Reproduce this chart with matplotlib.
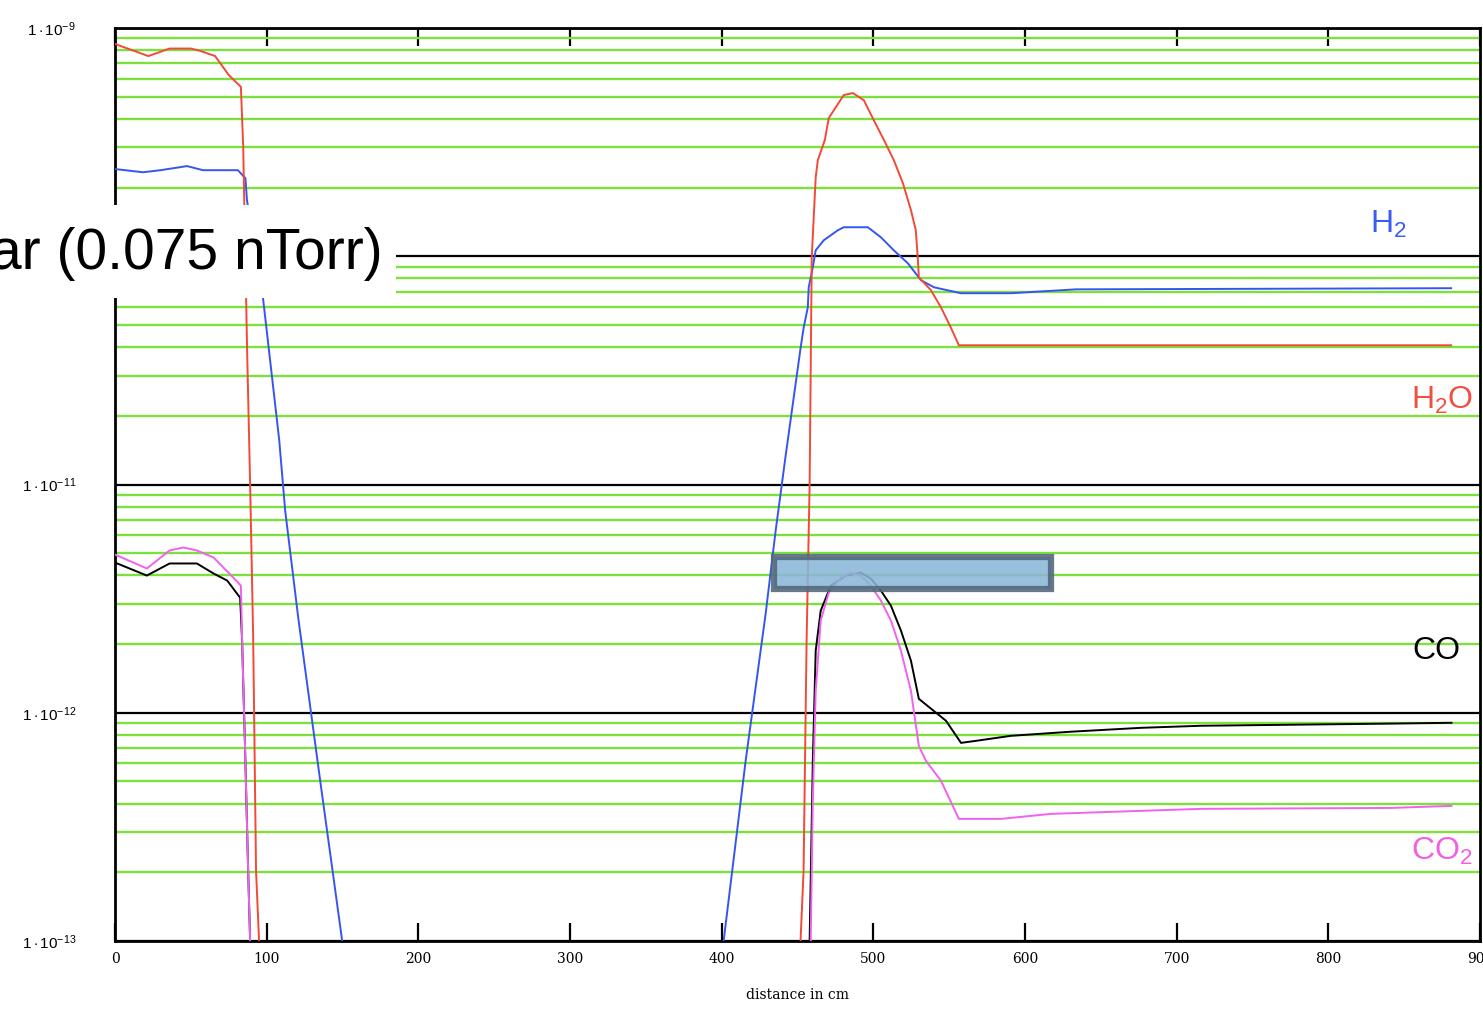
import matplotlib
matplotlib.use("Agg")
import matplotlib.pyplot as plt
import numpy as np
from matplotlib.patches import Rectangle
from matplotlib.ticker import LogLocator, NullLocator

plt.rcParams['mathtext.fontset'] = 'custom'
plt.rcParams['mathtext.rm'] = 'Liberation Sans'
plt.rcParams['mathtext.it'] = 'Liberation Sans'

# ---------------- data (distance in cm, log10 pressure) ----------------
h2o_x1 = [0, 22, 36, 50, 56, 66, 75, 83, 84.5, 87.1, 89.1, 91.1, 93, 95, 96]
h2o_l1 = [-9.070, -9.123, -9.090, -9.090, -9.100, -9.123, -9.206, -9.258, -9.513, -10.41, -11.0, -11.671, -12.693, -13.0, -13.5]
h2o_x2 = [451, 452, 454, 456, 458, 459.4, 462, 463.4, 468, 470.6, 474, 480.5, 486.5, 493.7, 500.3, 507,
          513.5, 519.5, 524.8, 528, 529.4, 530, 538, 544.6, 551, 556.4, 881]
h2o_l2 = [-13.5, -13.0, -12.693, -11.684, -11.0, -10.004, -9.654, -9.579, -9.491, -9.395, -9.360, -9.294, -9.285,
          -9.316, -9.404, -9.491, -9.579, -9.680, -9.798, -9.886, -10.018, -10.092, -10.149, -10.224, -10.311,
          -10.390, -10.390]

h2_x1 = [0, 18.5, 30, 47.5, 58, 81, 86, 87, 97, 108.3, 112.2, 120.8, 135.3, 149.8, 152]
h2_l1 = [-9.618, -9.632, -9.623, -9.605, -9.623, -9.623, -9.658, -9.754, -10.149, -10.807, -11.114, -11.583,
         -12.298, -13.0, -13.3]
h2_x2 = [399, 401.3, 415.8, 429, 435.6, 442.2, 452.1, 454.1, 456.8, 457.4, 460.1, 462.0, 467.3, 476.6, 480.5,
         496.4, 505, 513.5, 522.8, 531.4, 540, 557.8, 590.8, 633.7, 881]
h2_l2 = [-13.3, -13.0, -12.211, -11.566, -11.202, -10.873, -10.399, -10.311, -10.224, -10.136, -10.048, -9.974,
         -9.930, -9.886, -9.873, -9.873, -9.917, -9.974, -10.031, -10.105, -10.136, -10.162, -10.162, -10.145,
         -10.140]

co_x1 = [0, 21, 36, 54, 65, 74, 82.5, 83.8, 85.8, 87.8, 89.1, 90]
co_l1 = [-11.342, -11.399, -11.346, -11.346, -11.390, -11.421, -11.496, -11.684, -12.167, -12.693, -13.0, -13.5]
co_x2 = [457.5, 458, 460.1, 462, 465.3, 472, 481.8, 491.7, 498.3, 505, 511.6, 518.2, 524.8, 530, 538, 547.9,
         557.8, 567.7, 590.8, 630.4, 676.6, 716.2, 835, 881.2]
co_l2 = [-13.5, -13.0, -12.211, -11.728, -11.553, -11.443, -11.399, -11.386, -11.412, -11.465, -11.531, -11.640,
         -11.772, -11.939, -11.982, -12.035, -12.132, -12.123, -12.101, -12.083, -12.066, -12.057, -12.048, -12.044]

co2_x1 = [0, 21, 36, 45, 54, 65, 78, 83, 83.8, 85.8, 87.8, 89.1, 90]
co2_l1 = [-11.307, -11.368, -11.289, -11.276, -11.289, -11.320, -11.408, -11.443, -11.684, -12.167, -12.693,
          -13.0, -13.5]
co2_x2 = [458.2, 458.7, 460.1, 462, 465.3, 470.6, 478.5, 485.1, 491.7, 498.3, 505, 511.6, 518.2, 524.8, 530,
          534.7, 544.6, 556.4, 584.2, 617.2, 716.2, 841.6, 881.2]
co2_l2 = [-13.5, -13.0, -12.386, -11.904, -11.596, -11.474, -11.408, -11.386, -11.399, -11.443, -11.509, -11.596,
          -11.728, -11.904, -12.145, -12.211, -12.298, -12.465, -12.465, -12.443, -12.421, -12.417, -12.408]

box_x = [434.3, 617.2]
box_y = [3.50e-12, 4.83e-12]

xticks = [0, 100, 200, 300, 400, 500, 600, 700, 800, 900]
yticks = [1e-13, 1e-12, 1e-11, 1e-10, 1e-9]
# the 1e-10 label is hidden behind the white overlay in the reference
ytick_labels = [r'$1\cdot10^{-13}$', r'$1\cdot10^{-12}$', r'$1\cdot10^{-11}$', '', r'$1\cdot10^{-9}$']

# ---------------- figure ----------------
fig = plt.figure(figsize=(14.83, 10.09), dpi=100)
ax = fig.add_axes([115/1483, 1-941/1009, (1480-115)/1483, (941-28)/1009])
ax.set_yscale('log')
ax.set_xlim(0, 900)
ax.set_ylim(1e-13, 1e-9)

green = '#7ee03c'
ax.yaxis.set_minor_locator(LogLocator(base=10, subs=np.arange(2, 10)))
ax.xaxis.set_minor_locator(NullLocator())
ax.grid(axis='y', which='minor', color=green, lw=1.7, zorder=1)
ax.grid(axis='y', which='major', color='black', lw=1.6, zorder=1)
ax.set_axisbelow(True)

red = '#f24a36'
blue = '#3556ee'
mag = '#f062ee'

def p(l):
    return 10 ** np.array(l)

lw = 1.4
ax.plot(h2_x1, p(h2_l1), color=blue, lw=lw, zorder=3)
ax.plot(h2_x2, p(h2_l2), color=blue, lw=lw, zorder=3)
ax.plot(h2o_x1, p(h2o_l1), color=red, lw=lw, zorder=3)
ax.plot(h2o_x2, p(h2o_l2), color=red, lw=lw, zorder=3)
ax.plot(co2_x1, p(co2_l1), color=mag, lw=lw, zorder=4)
ax.plot(co2_x2, p(co2_l2), color=mag, lw=lw, zorder=4)
ax.plot(co_x1, p(co_l1), color='black', lw=lw, zorder=3.5)
ax.plot(co_x2, p(co_l2), color='black', lw=lw, zorder=3.5)

ax.add_patch(Rectangle((box_x[0], box_y[0]), box_x[1]-box_x[0], box_y[1]-box_y[0],
                       facecolor='#8ab6d6', edgecolor='#50677a', lw=4.5, alpha=0.88, zorder=5))

# ticks
ax.set_xticks(xticks)
ax.set_xticklabels([str(v) for v in xticks], family='DejaVu Serif', fontsize=10)
ax.set_yticks(yticks)
ax.set_yticklabels(ytick_labels, fontsize=11)
for lab in ax.get_yticklabels():
    lab.set_fontfamily('DejaVu Serif')
ax.tick_params(axis='x', which='major', direction='in', length=13, width=1.6, top=True, pad=8, color='black')
ax.tick_params(axis='y', which='both', length=0, pad=28)
for s in ax.spines.values():
    s.set_linewidth(2)
ax.set_xlabel('distance in cm', family='DejaVu Serif', fontsize=10, labelpad=16)

# species labels
lab_font = 'Liberation Sans'
fig.text(1388/1483, 1-224/1009, r'H$_2$', color='#3a5cf0', fontsize=23, family=lab_font, ha='center', va='center')
fig.text(1442/1483, 1-400/1009, r'H$_2$O', color='#f05040', fontsize=23, family=lab_font, ha='center', va='center')
fig.text(1436/1483, 1-651/1009, 'CO', color='black', fontsize=23, family=lab_font, ha='center', va='center')
fig.text(1442/1483, 1-851/1009, r'CO$_2$', color='#f060e0', fontsize=23, family=lab_font, ha='center', va='center')

# white overlay box with label
fig.patches.append(Rectangle((0, 1-298/1009), 396/1483, 93/1009, transform=fig.transFigure,
                             facecolor='white', edgecolor='none', zorder=10))
fig.text(383/1483, 1-254/1009, 'ar (0.075 nTorr)', fontsize=41, family='Liberation Sans',
         ha='right', va='center', color='black', zorder=11)

fig.savefig('out.png', dpi=100)
